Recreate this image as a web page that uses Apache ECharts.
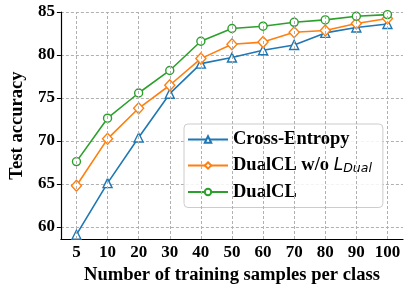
<!DOCTYPE html>
<html><head><meta charset="utf-8">
<script src="https://cdn.jsdelivr.net/npm/echarts@6/dist/echarts.min.js"></script>
<style>html,body{margin:0;padding:0;background:#fff}#c{width:411px;height:290px}</style>
</head><body><div id="c"></div>
<script>
const categories = ['5','10','20','30','40','50','60','70','80','90','100'];
const crossEntropy = [59.1, 65.1, 70.4, 75.5, 79.0, 79.7, 80.55, 81.17, 82.57, 83.2, 83.6];
const dualclNoLDual = [64.8, 70.25, 73.8, 76.48, 79.58, 81.25, 81.5, 82.65, 82.85, 83.66, 84.25];
const dualcl = [67.6, 72.65, 75.58, 78.2, 81.6, 83.08, 83.35, 83.8, 84.08, 84.5, 84.7];
const seriesNames = ['Cross-Entropy', 'DualCL w/o L_Dual', 'DualCL'];

const FONT = 'Liberation Serif';
const colors = ['#1f77b4', '#ff7f0e', '#2ca02c'];
const symbols = ['triangle', 'diamond', 'circle'];
const symSizes = [9, [10, 11], 8];
const dataSets = [crossEntropy, dualclNoLDual, dualcl];

const chart = echarts.init(document.getElementById('c'), null, {renderer: 'canvas'});
const series = dataSets.map((d, i) => ({
  name: seriesNames[i], type: 'line', data: d, z: 3,
  symbol: symbols[i], symbolSize: symSizes[i], showAllSymbol: true,
  lineStyle: {color: colors[i], width: 1.6},
  itemStyle: {color: '#fff', borderColor: colors[i], borderWidth: 1.4},
  emphasis: {disabled: true}, animation: false
}));
series.unshift({
  type: 'line', data: [], z: 1, silent: true, animation: false,
  markLine: {
    silent: true, symbol: 'none', animation: false,
    label: {show: false},
    lineStyle: {type: [3, 2], color: '#b0b0b0', width: 1},
    data: categories.map(c => ({xAxis: c}))
  }
});
chart.setOption({
  animation: false,
  grid: {left: 52, right: 8, top: 12, bottom: 51},
  xAxis: {
    type: 'category', data: categories, boundaryGap: true,
    name: 'Number of training samples per class', nameLocation: 'middle', nameGap: 24,
    nameTextStyle: {fontFamily: FONT, fontWeight: 'bold', fontSize: 18.6, color: '#000'},
    axisLine: {lineStyle: {color: '#000', width: 1.2}},
    axisTick: {alignWithLabel: true, length: 4, lineStyle: {color: '#000'}},
    axisLabel: {fontFamily: FONT, fontWeight: 'bold', fontSize: 17, color: '#000', margin: 5, interval: 0},
    splitLine: {show: false}
  },
  yAxis: {
    type: 'value', min: 58.6, max: 85, splitNumber: 5,
    name: 'Test accuracy', nameLocation: 'middle', nameGap: 32,
    nameTextStyle: {fontFamily: FONT, fontWeight: 'bold', fontSize: 18.6, color: '#000'},
    axisLine: {show: true, lineStyle: {color: '#000', width: 1.2}},
    axisTick: {show: true, length: 4, lineStyle: {color: '#000'}},
    axisLabel: {fontFamily: FONT, fontWeight: 'bold', fontSize: 17, color: '#000', margin: 6,
      showMinLabel: false,
      formatter: v => (Math.abs(v % 5) < 1e-6 ? String(v) : '')},
    splitLine: {show: true, lineStyle: {type: [3, 2], color: '#b0b0b0', width: 1}}
  },
  legend: {
    data: seriesNames, orient: 'vertical', left: 184, top: 124,
    padding: [6, 11, 6, 3], itemGap: 7, itemWidth: 40, itemHeight: 8,
    backgroundColor: 'rgba(255,255,255,0.85)', borderColor: '#cccccc', borderWidth: 1, borderRadius: 4,
    textStyle: {fontFamily: FONT, fontWeight: 'bold', fontSize: 18.5, color: '#000',
      rich: {
        b: {fontFamily: FONT, fontWeight: 'bold', fontSize: 18.5, color: '#000', lineHeight: 20},
        i: {fontFamily: 'DejaVu Sans', fontStyle: 'italic', fontWeight: 'normal', fontSize: 17, color: '#000', lineHeight: 20},
        s: {fontFamily: 'DejaVu Sans', fontStyle: 'italic', fontWeight: 'normal', fontSize: 12.5, color: '#000', lineHeight: 20, verticalAlign: 'bottom', padding: [6, 0, 0, 0]}
      }},
    formatter: n => n === 'DualCL w/o L_Dual' ? '{b|DualCL w/o }{i|L}{s|Dual}' : '{b|' + n + '}'
  },
  series: series
});
</script></body></html>
